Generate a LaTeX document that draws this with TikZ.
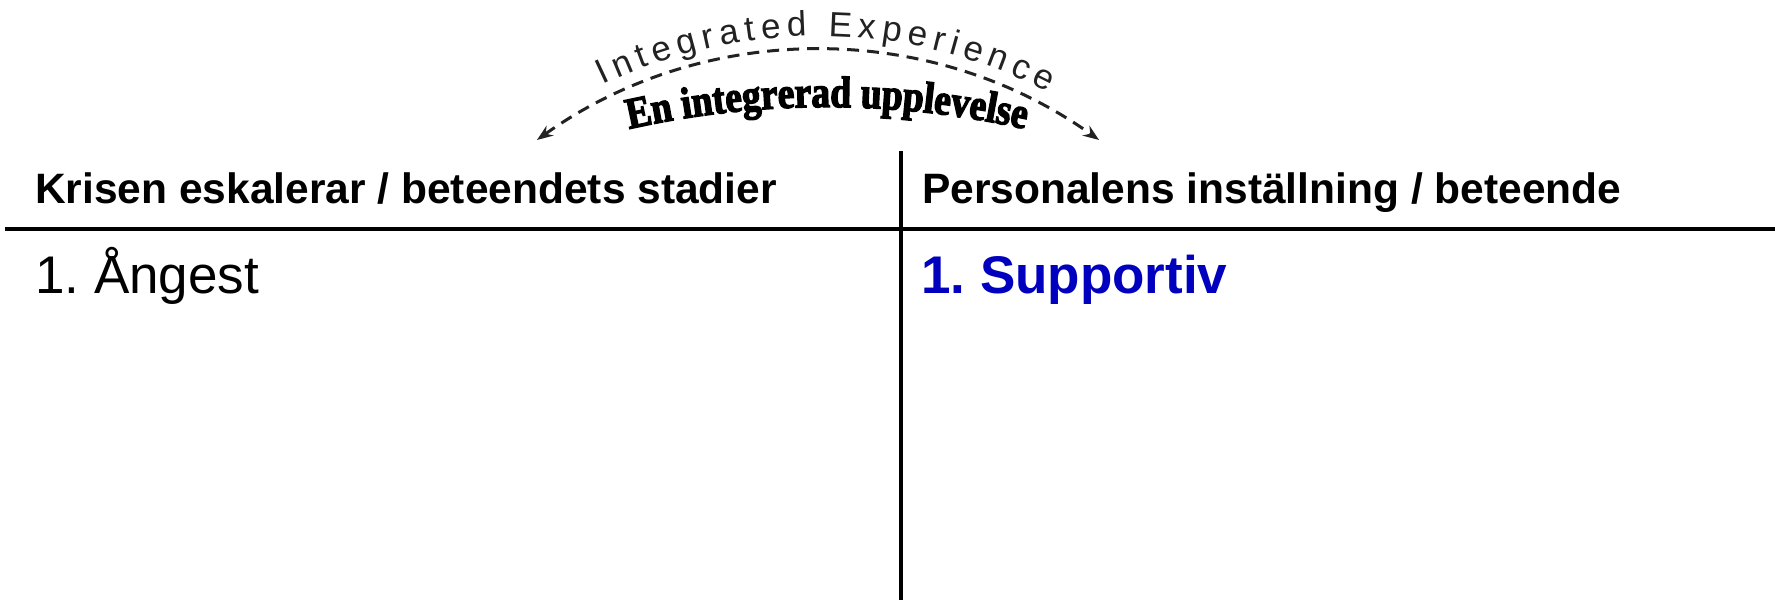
\documentclass[tikz,border=0pt]{standalone}
\usepackage{fontspec}
\setmainfont{Liberation Sans}
\newfontfamily\wordart[BoldFeatures={FakeBold=3,FakeStretch=0.85}]{Liberation Serif}
\usetikzlibrary{arrows.meta,decorations.text}
\definecolor{supblue}{RGB}{0,0,190}
\definecolor{arcgray}{RGB}{34,34,34}
\newcommand\intfont{\fontsize{35}{37}\selectfont}
\newcommand\wafont{\wordart\bfseries\fontsize{44}{46}\selectfont}
\frenchspacing
\begin{document}
\begin{tikzpicture}[x=1pt,y=1pt,
  head/.style={anchor=base west,inner sep=0pt,font=\bfseries\fontsize{42.5}{50}\selectfont},
  bodytext/.style={anchor=base west,inner sep=0pt,font=\fontsize{53}{63}\selectfont},
  rule/.style={line width=3.2pt,black},
  dasharc/.style={line width=3pt,arcgray,dash pattern=on 12pt off 8pt,{Stealth[length=16pt,width=12pt]}-{Stealth[length=16pt,width=12pt]}}]
\useasboundingbox (0,0) rectangle (1775,-602);
\fill[white] (0,0) rectangle (1775,-602);
% table rules
\coordinate (hL) at (5,-229);
\coordinate (hR) at (1775,-229);
\coordinate (vT) at (901,-151);
\coordinate (vB) at (901,-600);
\draw[rule] (hL) -- (hR);
\draw[rule] (vT) -- (vB);
% headers and entries
\node[head] (hleft) at (35,-203) {Krisen eskalerar / beteendets stadier};
\node[head] (hright) at (922,-203) {Personalens inställning / beteende};
\node[bodytext] (angest) at (35,-293) {1. Ångest};
\node[bodytext,font=\bfseries\fontsize{53}{63}\selectfont,text=supblue] (support) at (921,-293) {1. Supportiv};
% arc
\coordinate (c) at (818,-534);
\coordinate (arcL) at ([shift={(125.5:484)}]c);
\draw[dasharc] (arcL) arc[start angle=125.5,end angle=54.5,radius=484];
\coordinate (intL) at ([shift={(115.6:498)}]c);
\path[decorate,decoration={text along path,text={|\intfont|Integrated Experience},text align={fit to path},text color=arcgray}]
  (intL) arc[start angle=115.6,end angle=62.5,radius=498];
\coordinate (c2) at (827,-1007);
\coordinate (waL) at ([shift={(104:900)}]c2);
\path[decorate,decoration={text along path,text={|\wafont|En integrerad upplevelse},text align=center}]
  (waL) arc[start angle=104,end angle=76,radius=900];
\end{tikzpicture}
\end{document}
